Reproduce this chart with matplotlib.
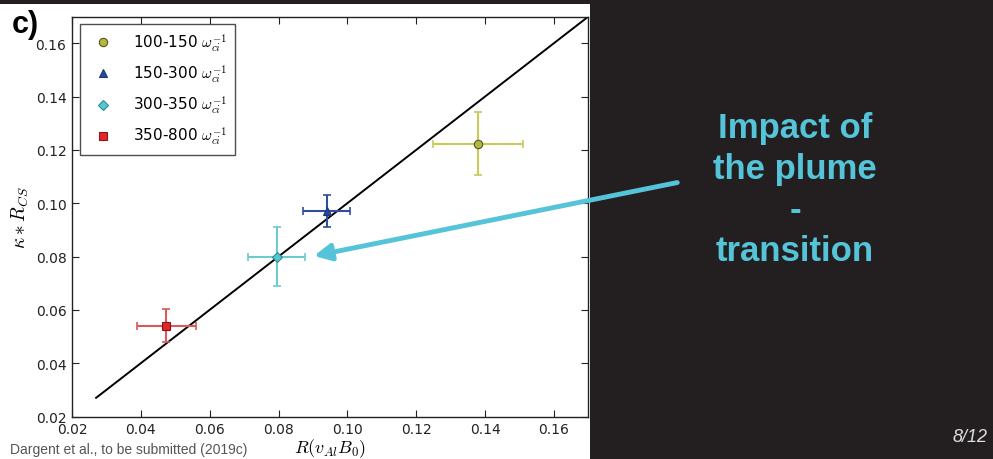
import matplotlib
matplotlib.use("Agg")
import matplotlib.pyplot as plt
from matplotlib.patches import Rectangle

plt.rcParams["mathtext.fontset"] = "cm"
plt.rcParams["font.family"] = "DejaVu Sans"

# data
labels = [r"100-150 $\omega_{ci}^{-1}$", r"150-300 $\omega_{ci}^{-1}$",
          r"300-350 $\omega_{ci}^{-1}$", r"350-800 $\omega_{ci}^{-1}$"]
x_vals = [0.138, 0.094, 0.0795, 0.0474]
y_vals = [0.1223, 0.0972, 0.0800, 0.0541]
x_err = [0.013, 0.0068, 0.0083, 0.0085]
y_err = [0.0118, 0.0060, 0.0110, 0.0062]
markers = ["o", "^", "D", "s"]
face_colors = ["#b3b842", "#27489e", "#57c7cf", "#e0262c"]
edge_colors = ["#55561c", "#1c3478", "#2b8f96", "#8a1515"]
err_colors = ["#c6cb5c", "#2f4ea2", "#6ccbd1", "#d9585a"]

line_x = [0.027, 0.17]
line_y = [0.027, 0.17]

x_ticks = [0.02, 0.04, 0.06, 0.08, 0.10, 0.12, 0.14, 0.16]
y_ticks = [0.02, 0.04, 0.06, 0.08, 0.10, 0.12, 0.14, 0.16]

bg = "#231f20"
cyan = "#55c4d8"

fig = plt.figure(figsize=(9.93, 4.6), dpi=100, facecolor=bg)
# white panel holding the original figure
fig.patches.append(Rectangle((0, 0), 590 / 993, 455 / 460, transform=fig.transFigure,
                             facecolor="white", edgecolor="none", zorder=-1))

ax = fig.add_axes([72 / 993, 42.5 / 460, 516.4 / 993, 400 / 460])
ax.set_zorder(2)
ax.plot(line_x, line_y, color="black", lw=1.4, zorder=1)

for i in range(len(labels)):
    ax.errorbar(x_vals[i], y_vals[i], xerr=x_err[i], yerr=y_err[i], fmt="none",
                ecolor=err_colors[i], elinewidth=1.5, capsize=3, capthick=1.2, zorder=2)
    ax.plot(x_vals[i], y_vals[i], ls="none", marker=markers[i], ms=6 if markers[i] != "D" else 5.5,
            mfc=face_colors[i], mec=edge_colors[i], mew=0.8, label=labels[i], zorder=3)

ax.set_xlim(0.02, 0.17)
ax.set_ylim(0.02, 0.17)
ax.set_xticks(x_ticks)
ax.set_yticks(y_ticks)
ax.set_xticklabels([f"{t:.2f}" for t in x_ticks])
ax.set_yticklabels([f"{t:.2f}" for t in y_ticks])
ax.tick_params(direction="in", top=True, right=True, length=5, width=0.8,
               labelsize=10, colors="#222222", pad=4)
for s in ax.spines.values():
    s.set_linewidth(1.0)
    s.set_color("#222222")

ax.set_xlabel(r"$R(v_{Al}B_0)$", fontsize=13, labelpad=0)
ax.set_ylabel(r"$\kappa * R_{CS}$", fontsize=14, labelpad=3)

leg = ax.legend(loc="upper left", numpoints=1, fontsize=11, frameon=True, fancybox=False,
                borderaxespad=0.5, labelspacing=0.6, handletextpad=1.0, borderpad=0.5)
leg.get_frame().set_edgecolor("#222222")
leg.get_frame().set_linewidth(1.0)

fig.text(12 / 993, 1 - 33 / 460, "c)", fontsize=22, fontweight="bold", color="black",
         family="Liberation Sans")
fig.text(10 / 993, 1 - 450 / 460, "Dargent et al., to be submitted (2019c)", fontsize=10,
         color="#555555", family="Liberation Sans", va="center")

# slide annotation
fig.text(795 / 993, 1 - 190 / 460, "Impact of\nthe plume\n-\ntransition", fontsize=25,
         fontweight="bold", color=cyan, ha="center", va="center", linespacing=1.3,
         family="Liberation Sans")
ax.annotate("", xy=(0.0895, 0.0800), xycoords="data",
            xytext=(680 / 993, 1 - 183 / 460), textcoords="figure fraction",
            arrowprops=dict(arrowstyle="-|>,head_length=1.0,head_width=0.5", color=cyan, lw=3.5),
            annotation_clip=False)

fig.text(988 / 993, 1 - 438 / 460, "8/12", fontsize=13, style="italic", color="#e0e0e0",
         ha="right", va="center", family="Liberation Sans")

fig.savefig("out.png", dpi=100, facecolor=bg)
